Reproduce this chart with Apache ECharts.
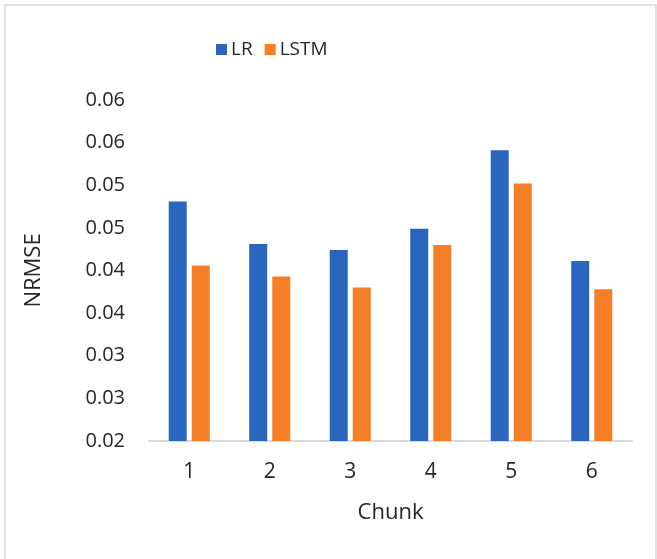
<!DOCTYPE html>
<html>
<head>
<meta charset="utf-8">
<script src="https://cdn.jsdelivr.net/npm/echarts@6/dist/echarts.min.js"></script>
<style>
  html, body { margin: 0; padding: 0; background: #ffffff; }
  #chart { width: 657px; height: 559px; }
</style>
</head>
<body>
<div id="chart"></div>
<script>
// Chunk indices along the x axis
const chunks = ['1', '2', '3', '4', '5', '6'];
// NRMSE per chunk for each model
const lrValues = [0.0481, 0.0431, 0.0424, 0.0449, 0.0541, 0.0411];
const lstmValues = [0.0406, 0.0393, 0.0380, 0.0430, 0.0502, 0.0378];
// Tick labels shown on the value axis (two-decimal rounding of 0.005 steps)
const yTickLabels = ['0.02', '0.03', '0.03', '0.04', '0.04', '0.05', '0.05', '0.06', '0.06'];

const FONT = '"Open Sans", "Noto Sans", sans-serif';
const TEXT = '#262626';

const chart = echarts.init(document.getElementById('chart'), null, { renderer: 'canvas' });

chart.setOption({
  backgroundColor: '#ffffff',
  animation: false,
  color: ['#2B66BE', '#F47F26'],
  graphic: [{
    type: 'rect',
    shape: { x: 5, y: 5, width: 651, height: 570 },
    style: { fill: 'none', stroke: '#d9d9d9', lineWidth: 1.5 },
    silent: true
  }],
  legend: {
    top: 35,
    left: 211,
    icon: 'rect',
    itemWidth: 11,
    itemHeight: 11,
    itemGap: 12,
    textStyle: { fontFamily: FONT, fontSize: 19, color: TEXT, padding: [0, 0, 0, -1] },
    data: ['LR', 'LSTM']
  },
  grid: { left: 149, right: 25, top: 100, bottom: 118, containLabel: false },
  xAxis: {
    type: 'category',
    data: chunks,
    name: 'Chunk',
    nameLocation: 'middle',
    nameGap: 61,
    nameTextStyle: { fontFamily: FONT, fontSize: 22, color: TEXT },
    axisLine: { lineStyle: { color: '#d9d9d9', width: 2 } },
    axisTick: { show: false },
    axisLabel: { fontFamily: FONT, fontSize: 21, color: TEXT, margin: 21 }
  },
  yAxis: {
    type: 'value',
    min: 0.02,
    max: 0.06,
    interval: 0.005,
    name: 'NRMSE',
    nameLocation: 'middle',
    nameGap: 104,
    nameTextStyle: { fontFamily: FONT, fontSize: 22, color: TEXT },
    axisLine: { show: false },
    axisTick: { show: false },
    splitLine: { show: false },
    axisLabel: {
      fontFamily: FONT, fontSize: 20, color: TEXT, margin: 24,
      formatter: (v, i) => yTickLabels[i]
    }
  },
  series: [
    {
      name: 'LR', type: 'bar', data: lrValues,
      barWidth: 18, barGap: '28%'
    },
    {
      name: 'LSTM', type: 'bar', data: lstmValues,
      barWidth: 18, barGap: '28%'
    }
  ]
});
</script>
</body>
</html>
